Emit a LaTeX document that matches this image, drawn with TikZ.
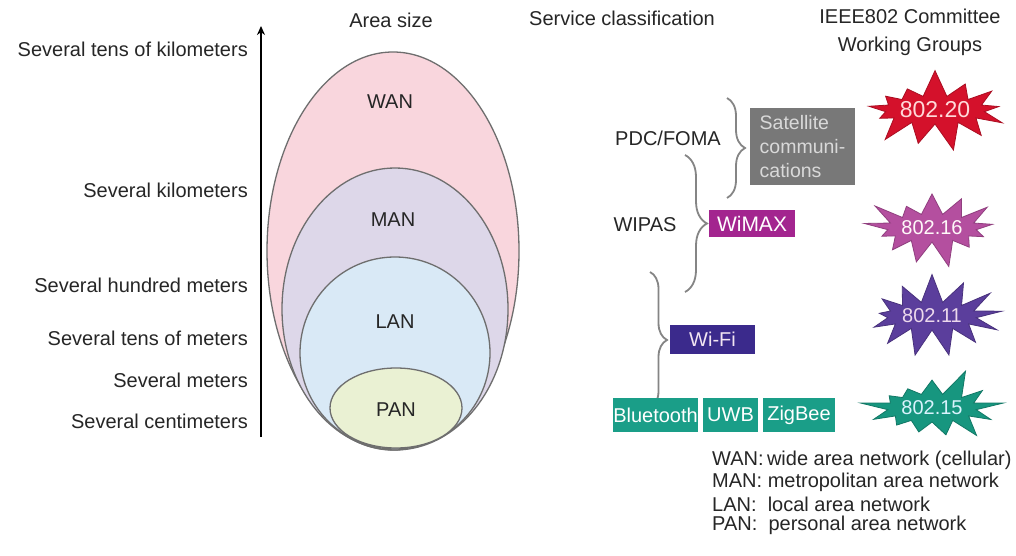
\documentclass[tikz,border=0pt]{standalone}
\usepackage{fontspec}
\setmainfont{Liberation Sans}
\usetikzlibrary{shapes.symbols,decorations.pathreplacing,arrows.meta}
\definecolor{txt}{HTML}{262626}
\definecolor{edge}{HTML}{6E6E6E}
\definecolor{wanfill}{HTML}{F9D6DD}
\definecolor{manfill}{HTML}{DDD7E9}
\definecolor{lanfill}{HTML}{D9E9F6}
\definecolor{panfill}{HTML}{EAF1D3}
\definecolor{bracec}{HTML}{858585}
\definecolor{satc}{HTML}{787878}
\definecolor{wimaxc}{HTML}{A3258F}
\definecolor{wific}{HTML}{3B2A8C}
\definecolor{tealc}{HTML}{1A9E88}
\definecolor{redc}{HTML}{D4112B}
\definecolor{pinkc}{HTML}{B44F9F}
\definecolor{indc}{HTML}{5B3E9C}
\definecolor{grnc}{HTML}{17967F}
\tikzset{
  lbl/.style={font=\fontsize{20}{23}\selectfont, text=txt, inner sep=0pt},
  netarea/.style={draw=edge, line width=1.3pt},
  brc/.style={draw=bracec, line width=1.8pt, decorate},
  svcbox/.style={font=\fontsize{20}{23}\selectfont, text=white, inner sep=0pt, draw=none},
  burst/.style={shape=starburst, draw, line width=0.8pt, minimum width=145pt, minimum height=84pt,
    starburst points=13, starburst point height=28pt, inner sep=0pt,
    font=\fontsize{20}{23}\selectfont}
}
\begin{document}
\begin{tikzpicture}[x=1pt,y=-1pt]
\useasboundingbox[fill=white] (0,0) rectangle (1016,556);

% headers
\node[lbl] (hArea) at (391,20) {Area size};
\node[lbl] (hSvc) at (622,18) {Service classification};
\node[lbl, align=center, font=\fontsize{20}{28}\selectfont] (hIeee) at (910,32) {IEEE802 Committee\\Working Groups};

% scale labels
\node[lbl, anchor=east] (s1) at (248,49) {Several tens of kilometers};
\node[lbl, anchor=east] (s2) at (248,190) {Several kilometers};
\node[lbl, anchor=east] (s3) at (248,285) {Several hundred meters};
\node[lbl, anchor=east] (s4) at (248,338) {Several tens of meters};
\node[lbl, anchor=east] (s5) at (248,380) {Several meters};
\node[lbl, anchor=east] (s6) at (248,421) {Several centimeters};

% axis arrow
\coordinate (axB) at (261,437);
\coordinate (axT) at (261,26);
\draw[line width=2.6pt, -{Stealth[length=9pt,width=8pt]}] (axB) -- (axT);

% ellipses
\draw[netarea, fill=wanfill] (393,251) ellipse [x radius=126pt, y radius=199pt];
\draw[netarea, fill=manfill] (395,309) ellipse [x radius=113pt, y radius=141pt];
\draw[netarea, fill=lanfill] (395,353) ellipse [x radius=95pt, y radius=96pt];
\draw[netarea, fill=panfill] (396,408) ellipse [x radius=66pt, y radius=40pt];
\node[lbl] (wan) at (390,102) {WAN};
\node[lbl] (man) at (393,220) {MAN};
\node[lbl] (lan) at (395,322) {LAN};
\node[lbl] (pan) at (396,410) {PAN};

% service classification
\node[lbl] (pdc) at (668,138) {PDC/FOMA};
\node[lbl] (wipas) at (645,225) {WIPAS};

\coordinate (b1t) at (727,98);
\coordinate (b1b) at (727,198);
\coordinate (b2t) at (685,155);
\coordinate (b2b) at (685,292);
\coordinate (b3t) at (650,272);
\coordinate (b3b) at (650,408);
\draw[brc, decoration={brace, amplitude=18pt}] (b1t) -- (b1b);
\draw[brc, decoration={brace, amplitude=22pt}] (b2t) -- (b2b);
\draw[brc, decoration={brace, amplitude=17pt}] (b3t) -- (b3b);

\node[svcbox, fill=satc, text=black!15, minimum width=105pt, minimum height=77pt, align=left,
  font=\fontsize{19.5}{24}\selectfont] (sat) at (802.5,146.5) {Satellite\\communi-\\cations};
\node[svcbox, fill=wimaxc, minimum width=86pt, minimum height=27pt, font=\fontsize{21}{23}\selectfont] (wimax) at (752,223.5) {WiMAX};
\node[svcbox, fill=wific, minimum width=85pt, minimum height=29pt, text=black!5!violet!10] (wifi) at (712.5,339.5) {Wi-Fi};
\node[svcbox, fill=tealc, minimum width=85pt, minimum height=34pt] (bt) at (655.5,415) {Bluetooth};
\node[svcbox, fill=tealc, minimum width=55pt, minimum height=34pt] (uwb) at (730.5,415) {UWB};
\node[svcbox, fill=tealc, minimum width=72pt, minimum height=34pt] (zig) at (799,415) {ZigBee};

% working groups
\node[burst, fill=redc, draw=redc!80!black, text=pink!60, random starburst=7, font=\fontsize{23}{25}\selectfont] (g20) at (935,110) {802.20};
\node[burst, fill=pinkc, draw=pinkc!80!black, text=white!90!pink, random starburst=21] (g16) at (932,228) {802.16};
\node[burst, fill=indc, draw=indc!80!black, text=white!85!violet, random starburst=33] (g11) at (932,316) {802.11};
\node[burst, fill=grnc, draw=grnc!80!black, text=white!85!cyan, random starburst=45] (g15) at (932,408) {802.15};

% legend
\node[lbl, anchor=west] (lg1) at (712,460) {WAN:\,wide area network (cellular)};
\node[lbl, anchor=west] (lg2) at (712,482) {MAN: metropolitan area network};
\node[lbl, anchor=west] (lg3) at (712,504) {LAN:\ \ local area network};
\node[lbl, anchor=west] (lg4) at (712,525) {PAN:\ \ personal area network};
\end{tikzpicture}
\end{document}
